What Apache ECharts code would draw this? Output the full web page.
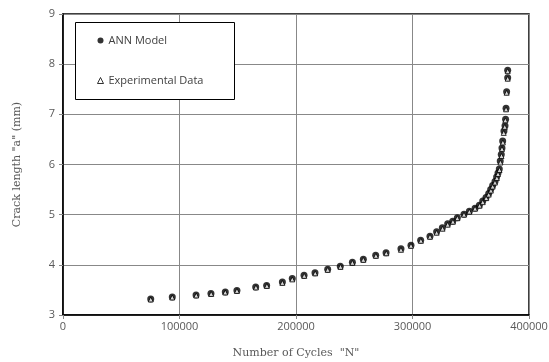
<!DOCTYPE html>
<html>
<head>
<meta charset="utf-8">
<script src="https://cdn.jsdelivr.net/npm/echarts@6/dist/echarts.min.js"></script>
<style>
  html, body { margin: 0; padding: 0; background: #fff; }
  #chart { width: 549px; height: 362px; }
</style>
</head>
<body>
<div id="chart"></div>
<script>
// number of cycles N
const annN = [75300, 93800, 114200, 127000, 139300, 149300, 165400, 174800, 188300, 196800,
  206900, 216300, 227200, 238000, 248400, 257800, 268400, 277300, 290100, 298700,
  307000, 315000, 320700, 325600, 330200, 334500, 338500, 344200, 348800, 353700,
  357400, 360300, 363100, 365400, 367100, 368800, 370800, 372200, 373400, 374500,
  375300, 376200, 376800, 377400, 378500, 379400, 379900, 380300, 380800, 381700, 381700];
// crack length a (mm)
const annA = [3.32, 3.36, 3.40, 3.43, 3.46, 3.49, 3.56, 3.59, 3.66, 3.73,
  3.79, 3.84, 3.91, 3.97, 4.05, 4.11, 4.19, 4.24, 4.32, 4.39,
  4.49, 4.57, 4.66, 4.74, 4.82, 4.87, 4.94, 5.01, 5.07, 5.13,
  5.19, 5.27, 5.34, 5.42, 5.50, 5.58, 5.66, 5.75, 5.83, 5.91,
  6.07, 6.20, 6.33, 6.47, 6.67, 6.77, 6.90, 7.12, 7.45, 7.73, 7.88];

const expN = [75300, 93800, 114400, 127200, 139300, 149300, 165600, 175000, 188300, 196800,
  207100, 216500, 227200, 238200, 248400, 257800, 268600, 277500, 290100, 298700,
  307200, 315000, 320700, 325800, 330200, 334700, 338500, 344200, 348800, 353700,
  357600, 360300, 363300, 365400, 367300, 368800, 370800, 372400, 373400, 374700,
  375500, 376400, 376800, 377600, 378300, 379200, 379700, 380300, 380800, 381700, 381700];
const expA = [3.31, 3.35, 3.39, 3.42, 3.45, 3.48, 3.55, 3.58, 3.64, 3.71,
  3.78, 3.83, 3.90, 3.96, 4.04, 4.10, 4.18, 4.23, 4.30, 4.38,
  4.48, 4.56, 4.64, 4.72, 4.80, 4.86, 4.93, 5.00, 5.06, 5.12,
  5.18, 5.25, 5.33, 5.40, 5.48, 5.56, 5.64, 5.73, 5.81, 5.89,
  6.04, 6.17, 6.31, 6.44, 6.63, 6.75, 6.88, 7.10, 7.43, 7.71, 7.86];

const xTicks = { min: 0, max: 400000, step: 100000 };
const yTicks = { min: 3, max: 9, step: 1 };

const labelStyle = { color: '#595959', fontSize: 11, fontFamily: 'Open Sans' };
const nameStyle = { color: '#595959', fontSize: 11, fontFamily: 'DejaVu Serif' };

const option = {
  animation: false,
  grid: {
    left: 63, right: 20, top: 14, bottom: 47,
    outerBoundsMode: 'none',
    containLabel: false,
    show: true,
    borderColor: '#000',
    borderWidth: 1.5
  },
  xAxis: {
    type: 'value',
    min: xTicks.min, max: xTicks.max, interval: xTicks.step,
    name: 'Number of Cycles  "N"',
    nameLocation: 'middle',
    nameGap: 33,
    nameTextStyle: nameStyle,
    axisLine: { lineStyle: { color: '#000', width: 1.5 } },
    axisTick: { show: true, length: 4, lineStyle: { color: '#888' } },
    axisLabel: { ...labelStyle, margin: 6, formatter: v => String(v) },
    splitLine: { lineStyle: { color: '#888', width: 1 } }
  },
  yAxis: {
    type: 'value',
    min: yTicks.min, max: yTicks.max, interval: yTicks.step,
    name: 'Crack length "a" (mm)',
    nameLocation: 'middle',
    nameGap: 40,
    nameTextStyle: nameStyle,
    axisLine: { show: true, lineStyle: { color: '#000', width: 1.5 } },
    axisTick: { show: true, length: 4, lineStyle: { color: '#888' } },
    axisLabel: { ...labelStyle, margin: 8 },
    splitLine: { lineStyle: { color: '#888', width: 1 } }
  },
  graphic: [{
    type: 'rect',
    left: 75, top: 22,
    shape: { width: 159, height: 77 },
    style: { fill: '#fff', stroke: '#000', lineWidth: 1 },
    z: 10
  }],
  legend: {
    orient: 'vertical',
    left: 92, top: 30,
    itemGap: 29,
    itemWidth: 6, itemHeight: 6,
    textStyle: { color: '#404040', fontSize: 11, fontFamily: 'Open Sans' },
    z: 20,
    data: [
      { name: 'ANN Model', icon: 'circle', itemStyle: { color: '#000', borderWidth: 0 } },
      { name: 'Experimental Data', icon: 'triangle', itemStyle: { color: '#fff', borderColor: '#000', borderWidth: 1 } }
    ]
  },
  series: [
    {
      name: 'ANN Model',
      type: 'scatter',
      symbol: 'circle',
      symbolSize: 7,
      itemStyle: { color: '#000' },
      data: annN.map((n, i) => [n, annA[i]])
    },
    {
      name: 'Experimental Data',
      type: 'scatter',
      symbol: 'triangle',
      symbolSize: 5,
      itemStyle: { color: '#fff', borderColor: '#000', borderWidth: 1 },
      data: expN.map((n, i) => [n, expA[i]])
    }
  ]
};

const myChart = echarts.init(document.getElementById('chart'));
myChart.setOption(option);
</script>
</body>
</html>
